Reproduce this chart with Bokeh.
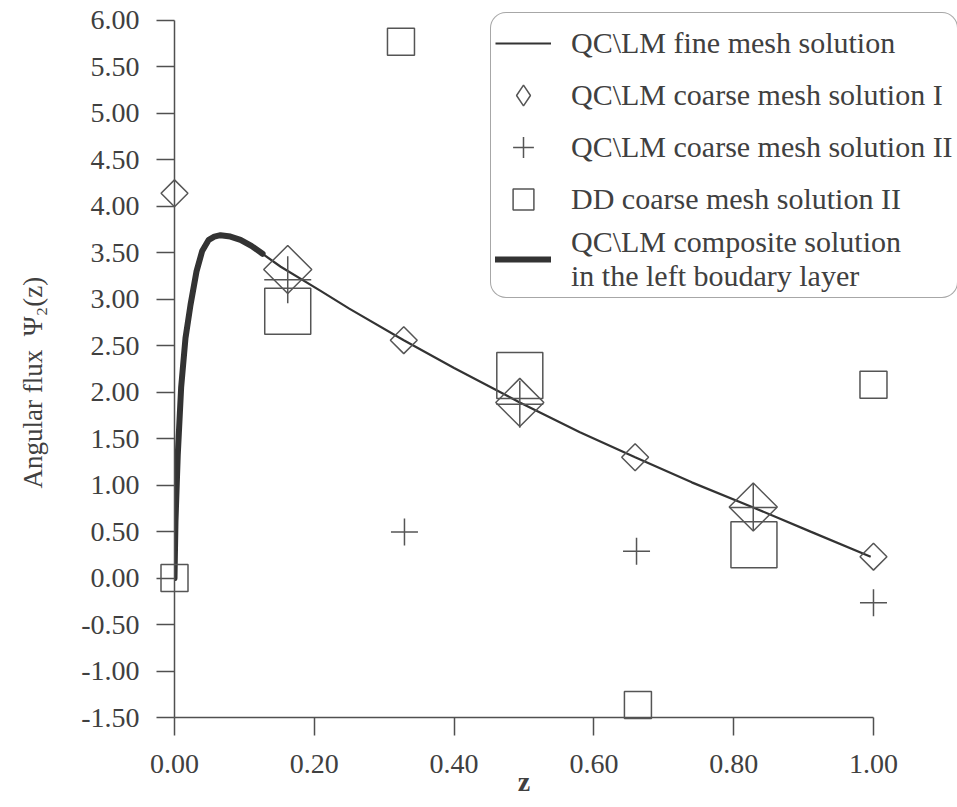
import math
from bokeh.plotting import figure
from bokeh.models import Range1d, FixedTicker, Legend, LegendItem, NumeralTickFormatter
from bokeh.embed import file_html
from bokeh.resources import INLINE

# ---- data ----
fine_z = [0.0, 0.0014, 0.0047, 0.0095, 0.0157, 0.0229, 0.0315, 0.0396, 0.049, 0.057,
          0.0658, 0.08, 0.0944, 0.11, 0.123, 0.152, 0.209, 0.25, 0.328, 0.40,
          0.494, 0.58, 0.659, 0.74, 0.828, 0.91, 0.996]
fine_psi = [0.0, 0.61, 1.33, 2.05, 2.58, 2.94, 3.30, 3.52, 3.64, 3.675,
            3.69, 3.675, 3.64, 3.575, 3.505, 3.35, 3.09, 2.90, 2.56, 2.26,
            1.89, 1.57, 1.30, 1.03, 0.76, 0.50, 0.23]

comp_z = [0.0, 0.0014, 0.0047, 0.0095, 0.0157, 0.0229, 0.0315, 0.0396, 0.049, 0.057,
          0.0658, 0.08, 0.0944, 0.11, 0.126]
comp_psi = [0.0, 0.61, 1.33, 2.05, 2.58, 2.94, 3.30, 3.52, 3.64, 3.675,
            3.69, 3.675, 3.64, 3.575, 3.49]

coarse1_z_a = [0.0, 0.328, 0.659, 1.0]
coarse1_psi_a = [4.14, 2.56, 1.30, 0.23]
coarse1_z_b = [0.162, 0.494, 0.828]
coarse1_psi_b = [3.32, 1.89, 0.765]

coarse2_z_a = [0.329, 0.661, 1.0]
coarse2_psi_a = [0.495, 0.29, -0.265]
coarse2_z_b = [0.162, 0.494, 0.828]
coarse2_psi_b = [3.21, 1.87, 0.76]

dd_z_a = [0.0, 0.324, 0.663, 1.0]
dd_psi_a = [0.0, 5.77, -1.365, 2.08]
dd_z_b = [0.162, 0.494, 0.829]
dd_psi_b = [2.87, 2.18, 0.36]

x_ticks = [0.0, 0.2, 0.4, 0.6, 0.8, 1.0]
y_ticks = [-1.5, -1.0, -0.5, 0.0, 0.5, 1.0, 1.5, 2.0, 2.5, 3.0, 3.5, 4.0, 4.5, 5.0, 5.5, 6.0]

x_title = "z"
y_title = "Angular flux\u00a0\u00a0\u03a8\u2082(z)"
labels = ["QC\\LM fine mesh solution",
          "QC\\LM coarse mesh solution I",
          "QC\\LM coarse mesh solution II",
          "DD coarse mesh solution II",
          "QC\\LM composite solution\nin the left boudary layer"]

# ---- figure ----
FONT = "Liberation Serif"
TXT = "#404040"
AX = "#505050"
MK = "#555555"
NB = "\u00a0"

W, H = 957, 807
FL = 174          # x = 0 position
FB = 717          # y = -1.5 position

p = figure(width=W, height=H, output_backend="svg", toolbar_location=None,
           x_range=Range1d(x_ticks[0], 1.1202), y_range=Range1d(y_ticks[0], 6.2149),
           min_border_left=FL, min_border_top=0,
           min_border_right=0, min_border_bottom=H - FB)
p.outline_line_color = None
p.xgrid.visible = False
p.ygrid.visible = False
p.background_fill_color = "white"
p.border_fill_color = "white"

for ax in (p.xaxis[0], p.yaxis[0]):
    ax.axis_line_color = AX
    ax.axis_line_width = 1.5
    ax.major_tick_line_color = AX
    ax.major_tick_line_width = 1.5
    ax.major_tick_out = 18
    ax.major_tick_in = 0
    ax.minor_tick_line_color = None
    ax.major_label_text_font = FONT
    ax.major_label_text_font_size = "28px"
    ax.major_label_text_color = TXT
    ax.axis_label_text_font = FONT
    ax.axis_label_text_font_size = "28px"
    ax.axis_label_text_color = TXT
    ax.formatter = NumeralTickFormatter(format="0.00")

p.xaxis[0].ticker = FixedTicker(ticks=x_ticks)
p.yaxis[0].ticker = FixedTicker(ticks=y_ticks)
p.xaxis[0].bounds = (x_ticks[0], x_ticks[-1])
p.yaxis[0].bounds = (y_ticks[0], y_ticks[-1])
p.xaxis[0].major_label_standoff = 19
p.yaxis[0].major_label_standoff = 17
# axis titles are centred on the (wider) frame; trailing no-break spaces
# re-centre the visible text on the drawn axis span
p.xaxis[0].axis_label = x_title + NB * 12
p.xaxis[0].axis_label_text_font_style = "bold"
p.xaxis[0].axis_label_standoff = -10
p.yaxis[0].axis_label = y_title + NB * 7
p.yaxis[0].axis_label_text_font_size = "27px"
p.yaxis[0].axis_label_text_font_style = "normal"
p.yaxis[0].axis_label_standoff = 30

LINE = "#333333"
r_fine = p.line(fine_z, fine_psi, line_color=LINE, line_width=2.2)
r_comp = p.line(comp_z, comp_psi, line_color=LINE, line_width=6, line_cap="round")

mk = dict(fill_color=None, line_color=MK, line_width=1.5, level="overlay")
p.scatter(coarse1_z_a, coarse1_psi_a, marker="square", angle=math.pi / 4, size=19, **mk)
p.scatter(coarse1_z_b, coarse1_psi_b, marker="square", angle=math.pi / 4, size=34, **mk)
r_c2a = p.scatter(coarse2_z_a, coarse2_psi_a, marker="cross", size=27, **mk)
p.scatter(coarse2_z_b, coarse2_psi_b, marker="cross", size=47, **mk)
r_dda = p.scatter(dd_z_a, dd_psi_a, marker="square", size=27, **mk)
p.scatter(dd_z_b, dd_psi_b, marker="square", size=46, **mk)
# legend-only key for the diamond series (legend glyphs ignore the marker angle);
# a single NaN point so nothing is drawn in the plot area
r_c1_key = p.scatter(x=[float("nan")], y=[float("nan")], marker="diamond", **mk)

items = [LegendItem(label=labels[0], renderers=[r_fine]),
         LegendItem(label=labels[1], renderers=[r_c1_key]),
         LegendItem(label=labels[2], renderers=[r_c2a]),
         LegendItem(label=labels[3], renderers=[r_dda]),
         LegendItem(label=labels[4], renderers=[r_comp])]

legend = Legend(items=items, location=(316, 419), orientation="vertical",
                label_text_font=FONT, label_text_font_size="30px", label_text_color=TXT,
                glyph_width=56, glyph_height=52, label_height=44, spacing=0, padding=4,
                label_standoff=20, margin=0,
                border_line_color=AX, border_line_width=1.5, border_radius=16,
                background_fill_color="white", background_fill_alpha=1.0)
p.add_layout(legend)

open("out.html", "w").write(file_html(p, INLINE))
